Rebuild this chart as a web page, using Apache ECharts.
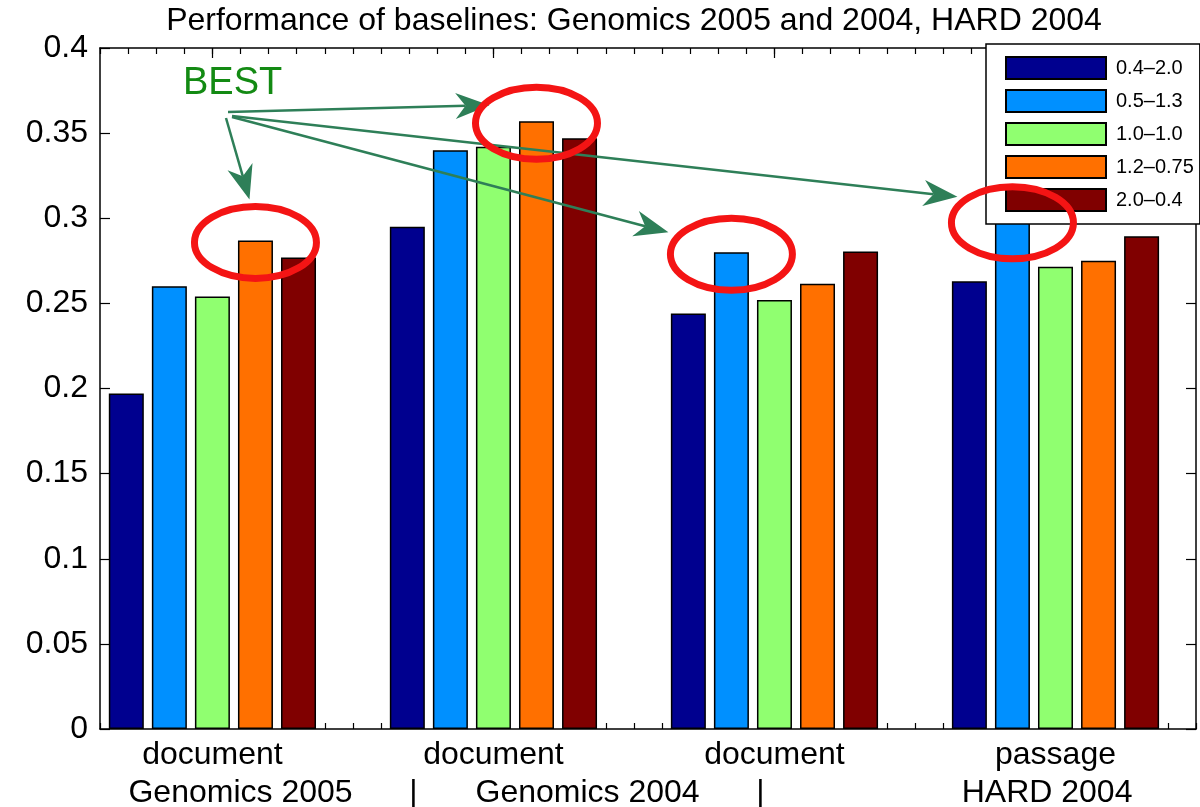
<!DOCTYPE html>
<html>
<head>
<meta charset="utf-8">
<script src="https://cdn.jsdelivr.net/npm/echarts@6/dist/echarts.min.js"></script>
<style>
  html, body { margin: 0; padding: 0; background: #fff; }
  #baselineChart { width: 1200px; height: 807px; }
</style>
</head>
<body>
<div id="baselineChart"></div>
<script>
// groups on the x axis (value axis, one unit per group)
const groupPos = [1, 2, 3, 4]
const groupNames = ['document', 'document', 'document', 'passage']
// second label row: collection names with separators
const collectionPos = [1.1, 1.715, 2.335, 2.95, 3.97]
const collectionNames = ['Genomics 2005', '|', 'Genomics 2004', '|', 'HARD 2004']

// parameter settings (legend)
const settingNames = ['0.4\u20132.0', '0.5\u20131.3', '1.0\u20131.0', '1.2\u20130.75', '2.0\u20130.4']
const settingColors = ['#00008f', '#0090ff', '#90ff70', '#ff7000', '#800000']

// values per setting, one per group
const vals0420 = [0.197, 0.295, 0.244, 0.263]
const vals0513 = [0.260, 0.340, 0.280, 0.2985]
const vals1010 = [0.254, 0.342, 0.252, 0.2715]
const vals12075 = [0.287, 0.357, 0.2615, 0.275]
const vals2004 = [0.277, 0.347, 0.2805, 0.2895]
const allVals = [vals0420, vals0513, vals1010, vals12075, vals2004]

// y ticks
const yTicks = [0, 0.05, 0.1, 0.15, 0.2, 0.25, 0.3, 0.35, 0.4]
const yTickLabels = ['0', '0.05', '0.1', '0.15', '0.2', '0.25', '0.3', '0.35', '0.4']

// best bar of each group: [setting index, group index]
const bestBars = [[3, 0], [3, 1], [1, 2], [1, 3]]

const FONT = "'Liberation Sans', Arial, Helvetica, sans-serif"
const minorTicks = []
for (let t = 6; t <= 45; t++) minorTicks.push(t / 10)

const dom = document.getElementById('baselineChart')
const myChart = echarts.init(dom)

function xAx (extra) {
  return Object.assign({
    type: 'value',
    min: 0.6,
    max: 4.5,
    gridIndex: 0,
    splitLine: { show: false },
    axisLine: { show: false },
    axisTick: { show: false },
    axisLabel: { show: false }
  }, extra)
}

const tickLine = { color: '#000', width: 1.2 }

const option = {
  animation: false,
  backgroundColor: '#fff',
  grid: {
    left: 100,
    right: 4,
    top: 48,
    bottom: 78,
    show: false,
    containLabel: false,
    outerBoundsMode: 'none'
  },
  legend: {
    orient: 'vertical',
    left: 986,
    top: 44,
    itemWidth: 100,
    itemHeight: 22,
    itemGap: 9,
    padding: [12, 6, 12, 19],
    backgroundColor: '#fff',
    borderColor: '#000',
    borderWidth: 1.5,
    icon: 'rect',
    z: 5,
    textStyle: {
      fontFamily: FONT,
      fontSize: 20,
      color: '#000',
      padding: [0, 0, 0, 5]
    },
    data: settingNames
  },
  xAxis: [
    // bottom line + minor ticks
    xAx({
      position: 'bottom',
      axisLine: { show: true, onZero: false, lineStyle: { color: '#000', width: 1.5 } },
      axisTick: { show: true, inside: true, length: 6, customValues: minorTicks, lineStyle: tickLine }
    }),
    // bottom group ticks + first label row
    xAx({
      position: 'bottom',
      axisTick: { show: true, inside: true, length: 10, customValues: groupPos, lineStyle: tickLine },
      axisLabel: {
        show: true,
        customValues: groupPos,
        margin: 10,
        fontFamily: FONT,
        fontSize: 32,
        color: '#000',
        formatter: (v) => groupNames[groupPos.indexOf(v)]
      }
    }),
    // second label row
    xAx({
      position: 'bottom',
      axisLabel: {
        show: true,
        customValues: collectionPos,
        margin: 48,
        fontFamily: FONT,
        fontSize: 32,
        color: '#000',
        formatter: (v) => {
          let k = 0
          collectionPos.forEach((p, i) => { if (Math.abs(p - v) < Math.abs(collectionPos[k] - v)) k = i })
          return collectionNames[k]
        }
      }
    }),
    // top frame line + minor ticks
    xAx({
      position: 'top',
      axisLine: { show: true, onZero: false, lineStyle: { color: '#000', width: 1.5 } },
      axisTick: { show: true, inside: true, length: 6, customValues: minorTicks, lineStyle: tickLine }
    }),
    // top group ticks
    xAx({
      position: 'top',
      axisTick: { show: true, inside: true, length: 10, customValues: groupPos, lineStyle: tickLine }
    })
  ],
  yAxis: [
    {
      type: 'value',
      min: 0,
      max: 0.4,
      position: 'left',
      splitLine: { show: false },
      axisLine: { show: true, onZero: false, lineStyle: { color: '#000', width: 1.5 } },
      axisTick: { show: true, inside: true, length: 10, customValues: yTicks, lineStyle: tickLine },
      axisLabel: {
        customValues: yTicks,
        margin: 12,
        fontFamily: FONT,
        fontSize: 32,
        color: '#000',
        formatter: (v) => yTickLabels[yTicks.indexOf(v)]
      }
    },
    {
      type: 'value',
      min: 0,
      max: 0.4,
      position: 'right',
      splitLine: { show: false },
      axisLine: { show: true, onZero: false, lineStyle: { color: '#000', width: 1.5 } },
      axisTick: { show: true, inside: true, length: 10, customValues: yTicks, lineStyle: tickLine },
      axisLabel: { show: false }
    }
  ],
  series: settingNames.map((name, s) => ({
    name: name,
    type: 'bar',
    xAxisIndex: 0,
    yAxisIndex: 0,
    barWidth: 35,
    barGap: '23%',
    itemStyle: {
      color: settingColors[s],
      borderColor: '#000',
      borderWidth: 1.5
    },
    data: allVals[s].map((v, g) => [groupPos[g], v])
  }))
}

myChart.setOption(option)

// annotations: red ellipses round the best bars, "BEST" label with arrows
function barTop (s, g) {
  const layout = myChart.getModel().getSeriesByIndex(s).getData().getItemLayout(g)
  return [layout.x + layout.width / 2, Math.min(layout.y, layout.y + layout.height)]
}

function arrow (from, to, color) {
  const dx = to[0] - from[0]
  const dy = to[1] - from[1]
  const len = Math.sqrt(dx * dx + dy * dy)
  const ux = dx / len
  const uy = dy / len
  const nx = -uy
  const ny = ux
  const L = 34
  const W = 13
  const notch = [to[0] - (L - 10) * ux, to[1] - (L - 10) * uy]
  return [
    {
      type: 'line',
      z: 100,
      shape: { x1: from[0], y1: from[1], x2: notch[0], y2: notch[1] },
      style: { stroke: color, lineWidth: 2.5 }
    },
    {
      type: 'polygon',
      z: 100,
      shape: {
        points: [
          to,
          [to[0] - L * ux + W * nx, to[1] - L * uy + W * ny],
          notch,
          [to[0] - L * ux - W * nx, to[1] - L * uy - W * ny]
        ]
      },
      style: { fill: color }
    }
  ]
}

const tipOffsets = [[-6, -41], [-47, -16], [-63, -20], [-55, -24]]
const arrowFrom = [[226, 118], [228, 112], [232, 117], [232, 116]]
const arrowColor = '#2e7f58'
const graphics = [
  {
    type: 'text',
    x: 634,
    y: 21,
    z: 100,
    style: {
      text: 'Performance of baselines: Genomics 2005 and 2004, HARD 2004',
      fontFamily: FONT,
      fontSize: 32,
      fill: '#000',
      textAlign: 'center',
      textVerticalAlign: 'middle'
    }
  },
  {
    type: 'text',
    x: 183,
    y: 84,
    z: 100,
    style: {
      text: 'BEST',
      fontFamily: FONT,
      fontSize: 38,
      fill: '#138a13',
      textAlign: 'left',
      textVerticalAlign: 'middle'
    }
  }
]
bestBars.forEach(([s, g], i) => {
  const c = barTop(s, g)
  graphics.push({
    type: 'ellipse',
    z: 101,
    shape: { cx: c[0], cy: c[1] + 2, rx: 61, ry: 36 },
    style: { fill: 'none', stroke: '#f41414', lineWidth: 7 }
  })
  const tip = [c[0] + tipOffsets[i][0], c[1] + tipOffsets[i][1]]
  arrow(arrowFrom[i], tip, arrowColor).forEach(el => graphics.push(el))
})

myChart.setOption({ graphic: graphics })

window.addEventListener('resize', () => {
  myChart.resize()
})
</script>
</body>
</html>
